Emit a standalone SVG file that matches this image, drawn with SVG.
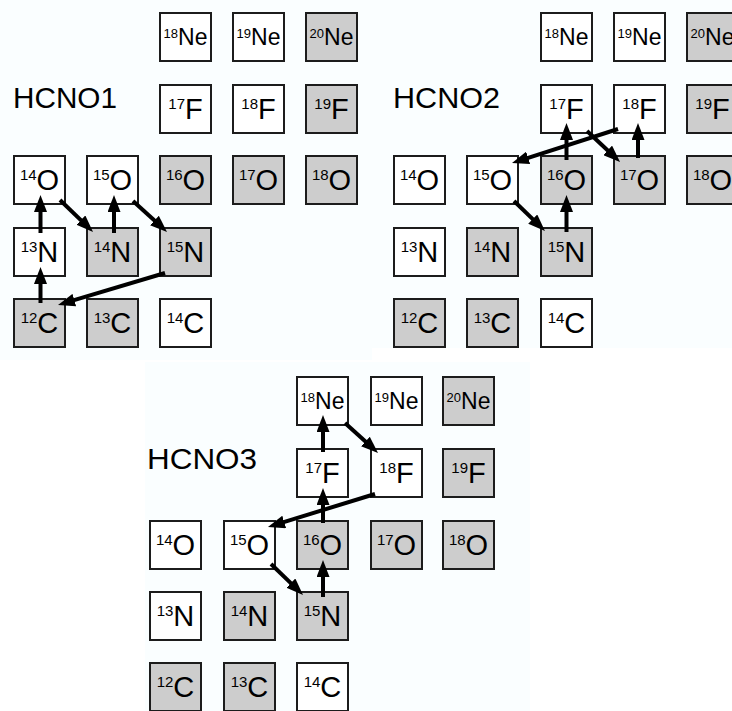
<svg xmlns="http://www.w3.org/2000/svg" width="732" height="711" viewBox="0 0 732 711">
  <style>
    .bg { fill: #fafeff; }
    .u { fill: #ffffff; stroke: #1c1c1c; stroke-width: 2; }
    .s { fill: #cdcdcd; stroke: #1c1c1c; stroke-width: 2; }
    text { font-family: "Liberation Sans", Arial, Helvetica, sans-serif; fill: #000; }
    .t { font-size: 29px; text-anchor: middle; }
    .tn { font-size: 23px; text-anchor: middle; }
    .sup { font-size: 15px; }
    .supn { font-size: 13px; }
    .title { font-size: 29px; }
    .arr { stroke: #000; stroke-width: 4; fill: none; marker-end: url(#head); }
  </style>
  <defs>
    <marker id="head" markerUnits="userSpaceOnUse" markerWidth="17" markerHeight="13" viewBox="0 0 17 13" refX="9" refY="6.5" orient="auto">
      <path d="M0,0 L17,6.5 L0,13 Z" fill="#000"/>
    </marker>
  </defs>

  <rect width="732" height="711" fill="#ffffff"/>
  <rect class="bg" x="0" y="0" width="372" height="360"/>
  <rect class="bg" x="372" y="0" width="360" height="348"/>
  <rect class="bg" x="145" y="362" width="385" height="349"/>

  <!-- ===== HCNO1 ===== -->
  <g id="hcno1">
    <text class="title" x="13" y="108" textLength="104" lengthAdjust="spacingAndGlyphs">HCNO1</text>
    <g id="p1-ne18"><rect class="u" x="160" y="13" width="51" height="48"/><text class="tn" x="185.5" y="45"><tspan class="supn" dy="-7.5">18</tspan><tspan dy="7.5">Ne</tspan></text></g>
    <g id="p1-ne19"><rect class="u" x="233" y="13" width="51" height="48"/><text class="tn" x="258.5" y="45"><tspan class="supn" dy="-7.5">19</tspan><tspan dy="7.5">Ne</tspan></text></g>
    <g id="p1-ne20"><rect class="s" x="306" y="13" width="51" height="48"/><text class="tn" x="331.5" y="45"><tspan class="supn" dy="-7.5">20</tspan><tspan dy="7.5">Ne</tspan></text></g>
    <g id="p1-f17"><rect class="u" x="160" y="85" width="51" height="48"/><text class="t" x="185.5" y="119"><tspan class="sup" dy="-10">17</tspan><tspan dy="10">F</tspan></text></g>
    <g id="p1-f18"><rect class="u" x="233" y="85" width="51" height="48"/><text class="t" x="258.5" y="119"><tspan class="sup" dy="-10">18</tspan><tspan dy="10">F</tspan></text></g>
    <g id="p1-f19"><rect class="s" x="306" y="85" width="51" height="48"/><text class="t" x="331.5" y="119"><tspan class="sup" dy="-10">19</tspan><tspan dy="10">F</tspan></text></g>
    <g id="p1-o14"><rect class="u" x="14" y="156" width="51" height="48"/><text class="t" x="39.5" y="190"><tspan class="sup" dy="-10">14</tspan><tspan dy="10">O</tspan></text></g>
    <g id="p1-o15"><rect class="u" x="87" y="156" width="51" height="48"/><text class="t" x="112.5" y="190"><tspan class="sup" dy="-10">15</tspan><tspan dy="10">O</tspan></text></g>
    <g id="p1-o16"><rect class="s" x="160" y="156" width="51" height="48"/><text class="t" x="185.5" y="190"><tspan class="sup" dy="-10">16</tspan><tspan dy="10">O</tspan></text></g>
    <g id="p1-o17"><rect class="s" x="233" y="156" width="51" height="48"/><text class="t" x="258.5" y="190"><tspan class="sup" dy="-10">17</tspan><tspan dy="10">O</tspan></text></g>
    <g id="p1-o18"><rect class="s" x="306" y="156" width="51" height="48"/><text class="t" x="331.5" y="190"><tspan class="sup" dy="-10">18</tspan><tspan dy="10">O</tspan></text></g>
    <g id="p1-n13"><rect class="u" x="14" y="228" width="51" height="48"/><text class="t" x="39.5" y="262"><tspan class="sup" dy="-10">13</tspan><tspan dy="10">N</tspan></text></g>
    <g id="p1-n14"><rect class="s" x="87" y="228" width="51" height="48"/><text class="t" x="112.5" y="262"><tspan class="sup" dy="-10">14</tspan><tspan dy="10">N</tspan></text></g>
    <g id="p1-n15"><rect class="s" x="160" y="228" width="51" height="48"/><text class="t" x="185.5" y="262"><tspan class="sup" dy="-10">15</tspan><tspan dy="10">N</tspan></text></g>
    <g id="p1-c12"><rect class="s" x="14" y="299" width="51" height="48"/><text class="t" x="39.5" y="333"><tspan class="sup" dy="-10">12</tspan><tspan dy="10">C</tspan></text></g>
    <g id="p1-c13"><rect class="s" x="87" y="299" width="51" height="48"/><text class="t" x="112.5" y="333"><tspan class="sup" dy="-10">13</tspan><tspan dy="10">C</tspan></text></g>
    <g id="p1-c14"><rect class="u" x="160" y="299" width="51" height="48"/><text class="t" x="185.5" y="333"><tspan class="sup" dy="-10">14</tspan><tspan dy="10">C</tspan></text></g>
  </g>

  <!-- ===== HCNO2 ===== -->
  <g id="hcno2">
    <text class="title" x="393" y="108" textLength="107" lengthAdjust="spacingAndGlyphs">HCNO2</text>
    <g id="p2-ne18"><rect class="u" x="541" y="13" width="51" height="48"/><text class="tn" x="566.5" y="45"><tspan class="supn" dy="-7.5">18</tspan><tspan dy="7.5">Ne</tspan></text></g>
    <g id="p2-ne19"><rect class="u" x="614" y="13" width="51" height="48"/><text class="tn" x="639.5" y="45"><tspan class="supn" dy="-7.5">19</tspan><tspan dy="7.5">Ne</tspan></text></g>
    <g id="p2-ne20"><rect class="s" x="687" y="13" width="51" height="48"/><text class="tn" x="712.5" y="45"><tspan class="supn" dy="-7.5">20</tspan><tspan dy="7.5">Ne</tspan></text></g>
    <g id="p2-f17"><rect class="u" x="541" y="85" width="51" height="48"/><text class="t" x="566.5" y="119"><tspan class="sup" dy="-10">17</tspan><tspan dy="10">F</tspan></text></g>
    <g id="p2-f18"><rect class="u" x="614" y="85" width="51" height="48"/><text class="t" x="639.5" y="119"><tspan class="sup" dy="-10">18</tspan><tspan dy="10">F</tspan></text></g>
    <g id="p2-f19"><rect class="s" x="687" y="85" width="51" height="48"/><text class="t" x="712.5" y="119"><tspan class="sup" dy="-10">19</tspan><tspan dy="10">F</tspan></text></g>
    <g id="p2-o14"><rect class="u" x="394" y="156" width="51" height="48"/><text class="t" x="419.5" y="190"><tspan class="sup" dy="-10">14</tspan><tspan dy="10">O</tspan></text></g>
    <g id="p2-o15"><rect class="u" x="467" y="156" width="51" height="48"/><text class="t" x="492.5" y="190"><tspan class="sup" dy="-10">15</tspan><tspan dy="10">O</tspan></text></g>
    <g id="p2-o16"><rect class="s" x="541" y="156" width="51" height="48"/><text class="t" x="566.5" y="190"><tspan class="sup" dy="-10">16</tspan><tspan dy="10">O</tspan></text></g>
    <g id="p2-o17"><rect class="s" x="614" y="156" width="51" height="48"/><text class="t" x="639.5" y="190"><tspan class="sup" dy="-10">17</tspan><tspan dy="10">O</tspan></text></g>
    <g id="p2-o18"><rect class="s" x="687" y="156" width="51" height="48"/><text class="t" x="712.5" y="190"><tspan class="sup" dy="-10">18</tspan><tspan dy="10">O</tspan></text></g>
    <g id="p2-n13"><rect class="u" x="394" y="228" width="51" height="48"/><text class="t" x="419.5" y="262"><tspan class="sup" dy="-10">13</tspan><tspan dy="10">N</tspan></text></g>
    <g id="p2-n14"><rect class="s" x="467" y="228" width="51" height="48"/><text class="t" x="492.5" y="262"><tspan class="sup" dy="-10">14</tspan><tspan dy="10">N</tspan></text></g>
    <g id="p2-n15"><rect class="s" x="541" y="228" width="51" height="48"/><text class="t" x="566.5" y="262"><tspan class="sup" dy="-10">15</tspan><tspan dy="10">N</tspan></text></g>
    <g id="p2-c12"><rect class="s" x="394" y="299" width="51" height="48"/><text class="t" x="419.5" y="333"><tspan class="sup" dy="-10">12</tspan><tspan dy="10">C</tspan></text></g>
    <g id="p2-c13"><rect class="s" x="467" y="299" width="51" height="48"/><text class="t" x="492.5" y="333"><tspan class="sup" dy="-10">13</tspan><tspan dy="10">C</tspan></text></g>
    <g id="p2-c14"><rect class="u" x="541" y="299" width="51" height="48"/><text class="t" x="566.5" y="333"><tspan class="sup" dy="-10">14</tspan><tspan dy="10">C</tspan></text></g>
  </g>

  <!-- ===== HCNO3 ===== -->
  <g id="hcno3">
    <text class="title" x="147" y="469" textLength="110" lengthAdjust="spacingAndGlyphs">HCNO3</text>
    <g id="p3-ne18"><rect class="u" x="297" y="377" width="51" height="48"/><text class="tn" x="322.5" y="409"><tspan class="supn" dy="-7.5">18</tspan><tspan dy="7.5">Ne</tspan></text></g>
    <g id="p3-ne19"><rect class="u" x="371" y="377" width="51" height="48"/><text class="tn" x="396.5" y="409"><tspan class="supn" dy="-7.5">19</tspan><tspan dy="7.5">Ne</tspan></text></g>
    <g id="p3-ne20"><rect class="s" x="443" y="377" width="51" height="48"/><text class="tn" x="468.5" y="409"><tspan class="supn" dy="-7.5">20</tspan><tspan dy="7.5">Ne</tspan></text></g>
    <g id="p3-f17"><rect class="u" x="297" y="449" width="51" height="48"/><text class="t" x="322.5" y="483"><tspan class="sup" dy="-10">17</tspan><tspan dy="10">F</tspan></text></g>
    <g id="p3-f18"><rect class="u" x="371" y="449" width="51" height="48"/><text class="t" x="396.5" y="483"><tspan class="sup" dy="-10">18</tspan><tspan dy="10">F</tspan></text></g>
    <g id="p3-f19"><rect class="s" x="443" y="449" width="51" height="48"/><text class="t" x="468.5" y="483"><tspan class="sup" dy="-10">19</tspan><tspan dy="10">F</tspan></text></g>
    <g id="p3-o14"><rect class="u" x="150" y="521" width="51" height="48"/><text class="t" x="175.5" y="555"><tspan class="sup" dy="-10">14</tspan><tspan dy="10">O</tspan></text></g>
    <g id="p3-o15"><rect class="u" x="224" y="521" width="51" height="48"/><text class="t" x="249.5" y="555"><tspan class="sup" dy="-10">15</tspan><tspan dy="10">O</tspan></text></g>
    <g id="p3-o16"><rect class="s" x="297" y="521" width="51" height="48"/><text class="t" x="322.5" y="555"><tspan class="sup" dy="-10">16</tspan><tspan dy="10">O</tspan></text></g>
    <g id="p3-o17"><rect class="s" x="371" y="521" width="51" height="48"/><text class="t" x="396.5" y="555"><tspan class="sup" dy="-10">17</tspan><tspan dy="10">O</tspan></text></g>
    <g id="p3-o18"><rect class="s" x="443" y="521" width="51" height="48"/><text class="t" x="468.5" y="555"><tspan class="sup" dy="-10">18</tspan><tspan dy="10">O</tspan></text></g>
    <g id="p3-n13"><rect class="u" x="150" y="592" width="51" height="48"/><text class="t" x="175.5" y="626"><tspan class="sup" dy="-10">13</tspan><tspan dy="10">N</tspan></text></g>
    <g id="p3-n14"><rect class="s" x="224" y="592" width="51" height="48"/><text class="t" x="249.5" y="626"><tspan class="sup" dy="-10">14</tspan><tspan dy="10">N</tspan></text></g>
    <g id="p3-n15"><rect class="s" x="297" y="592" width="51" height="48"/><text class="t" x="322.5" y="626"><tspan class="sup" dy="-10">15</tspan><tspan dy="10">N</tspan></text></g>
    <g id="p3-c12"><rect class="s" x="150" y="663" width="51" height="48"/><text class="t" x="175.5" y="697"><tspan class="sup" dy="-10">12</tspan><tspan dy="10">C</tspan></text></g>
    <g id="p3-c13"><rect class="s" x="224" y="663" width="51" height="48"/><text class="t" x="249.5" y="697"><tspan class="sup" dy="-10">13</tspan><tspan dy="10">C</tspan></text></g>
    <g id="p3-c14"><rect class="u" x="297" y="663" width="51" height="48"/><text class="t" x="322.5" y="697"><tspan class="sup" dy="-10">14</tspan><tspan dy="10">C</tspan></text></g>
  </g>

  <!-- reaction arrows: proton captures (up), beta decays (diagonal), (p,alpha) back-links -->
  <g id="connectors">
    <line class="arr" x1="40.5" y1="303" x2="40.5" y2="275"/>
    <line class="arr" x1="40.5" y1="233" x2="40.5" y2="203"/>
    <line class="arr" x1="60" y1="200" x2="87.3" y2="226.4"/>
    <line class="arr" x1="114" y1="233" x2="114" y2="203"/>
    <line class="arr" x1="133" y1="201" x2="161.1" y2="226.6"/>
    <line class="arr" x1="165" y1="273" x2="65.7" y2="302.7"/>

    <line class="arr" x1="514" y1="201" x2="539.2" y2="225.4"/>
    <line class="arr" x1="566.5" y1="232" x2="566.5" y2="203"/>
    <line class="arr" x1="566.5" y1="160" x2="566.5" y2="131"/>
    <line class="arr" x1="587" y1="131" x2="614.2" y2="156.5"/>
    <line class="arr" x1="638" y1="158" x2="638" y2="131"/>
    <line class="arr" x1="618" y1="129" x2="519.6" y2="160.6"/>

    <line class="arr" x1="271" y1="564" x2="297.3" y2="589.4"/>
    <line class="arr" x1="323" y1="597" x2="323" y2="568"/>
    <line class="arr" x1="323" y1="523" x2="323" y2="496"/>
    <line class="arr" x1="323" y1="452" x2="323" y2="423"/>
    <line class="arr" x1="345" y1="423" x2="372.1" y2="447.6"/>
    <line class="arr" x1="375" y1="494" x2="275.6" y2="524.6"/>
  </g>
</svg>
